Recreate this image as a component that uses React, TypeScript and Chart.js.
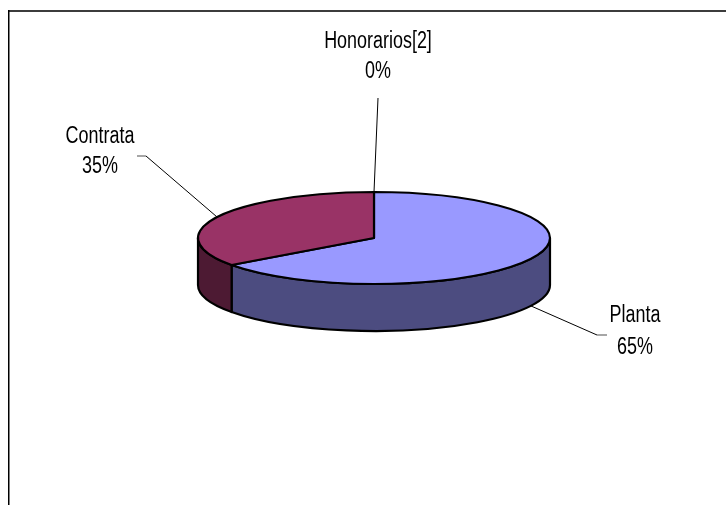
import React, { useEffect, useRef } from "react";
import { Chart, registerables } from "chart.js";

Chart.register(...registerables);

// ---- data ----
const categories = ["Planta", "Contrata", "Honorarios[2]"];
const values = [65, 35, 0];
const topColors = ["#9999FF", "#993366", "#FFFFCC"];
const sideColors = ["#4C4C80", "#4D1A33", "#80806A"];

// label placement (center x, baseline of first line, line gap) and leader elbow/stub
const labelAnchors = [
  { x: 635, y: 322, gap: 32, elbow: [597, 335], stub: [607, 335] },
  { x: 100, y: 143, gap: 30, elbow: [146, 156], stub: [137, 156] },
  { x: 378, y: 48, gap: 30, elbow: [378, 98], stub: null as null | number[] },
];

const TILT = 46 / 176; // vertical squash of the pie
const DEPTH = 47 / 176; // thickness of the pie

const pie3d = {
  id: "pie3d",
  beforeDatasetsDraw(chart: any) {
    const ctx: CanvasRenderingContext2D = chart.ctx;
    const meta = chart.getDatasetMeta(0);
    const arcs = meta.data as any[];
    if (!arcs.length) return false;
    const cx = arcs[0].x;
    const cy = arcs[0].y;
    const rx = arcs[0].outerRadius;
    const ry = rx * TILT;
    const d = rx * DEPTH;

    ctx.save();
    ctx.lineJoin = "round";
    ctx.strokeStyle = "#000";

    const norm = (a: number) => {
      let t = a % (2 * Math.PI);
      if (t < 0) t += 2 * Math.PI;
      return t;
    };
    // sides (front half only)
    arcs.forEach((arc, i) => {
      if (arc.endAngle - arc.startAngle <= 0) return;
      const a = norm(arc.startAngle);
      const b = a + (arc.endAngle - arc.startAngle);
      const ranges: number[][] = [];
      for (const off of [0, 2 * Math.PI]) {
        const s = Math.max(a, off);
        const e = Math.min(b, off + Math.PI);
        if (e > s) ranges.push([s, e]);
      }
      ranges.forEach(([s, e]) => {
        ctx.beginPath();
        ctx.moveTo(cx + rx * Math.cos(s), cy + ry * Math.sin(s));
        ctx.ellipse(cx, cy, rx, ry, 0, s, e, false);
        ctx.lineTo(cx + rx * Math.cos(e), cy + d + ry * Math.sin(e));
        ctx.ellipse(cx, cy + d, rx, ry, 0, e, s, true);
        ctx.closePath();
        ctx.fillStyle = sideColors[i];
        ctx.fill();
        ctx.lineWidth = 2.2;
        ctx.stroke();
      });
    });

    // top faces
    arcs.forEach((arc, i) => {
      if (arc.endAngle - arc.startAngle <= 0) return;
      ctx.beginPath();
      ctx.moveTo(cx, cy);
      ctx.ellipse(cx, cy, rx, ry, 0, arc.startAngle, arc.endAngle, false);
      ctx.closePath();
      ctx.fillStyle = topColors[i];
      ctx.fill();
      ctx.lineWidth = 2.2;
      ctx.stroke();
    });

    // leader lines and labels
    const total = values.reduce((s, v) => s + v, 0);
    arcs.forEach((arc, i) => {
      const mid = (arc.startAngle + arc.endAngle) / 2;
      const sx = cx + rx * Math.cos(mid);
      let sy = cy + ry * Math.sin(mid);
      if (Math.sin(mid) > 0.05) sy += d;
      const lab = labelAnchors[i];
      ctx.beginPath();
      ctx.moveTo(sx, sy);
      ctx.lineTo(lab.elbow[0], lab.elbow[1]);
      ctx.lineWidth = 1;
      ctx.strokeStyle = "#000";
      ctx.stroke();
      if (lab.stub) {
        ctx.beginPath();
        ctx.moveTo(lab.elbow[0], lab.elbow[1]);
        ctx.lineTo(lab.stub[0], lab.stub[1]);
        ctx.strokeStyle = "#888";
        ctx.lineWidth = 1.5;
        ctx.stroke();
      }
      const pct = Math.round((values[i] / total) * 100) + "%";
      const lines = [categories[i], pct];
      ctx.fillStyle = "#000";
      ctx.font = "23px 'Liberation Sans', Arial, sans-serif";
      ctx.textAlign = "center";
      ctx.textBaseline = "alphabetic";
      lines.forEach((t, k) => {
        ctx.save();
        ctx.translate(lab.x, lab.y + k * lab.gap);
        ctx.scale(0.78, 1);
        ctx.fillText(t, 0, 0);
        ctx.restore();
      });
    });

    ctx.restore();
    return false;
  },
  afterDraw(chart: any) {
    const ctx: CanvasRenderingContext2D = chart.ctx;
    ctx.save();
    ctx.strokeStyle = "#3c3c3c";
    ctx.lineWidth = 2;
    ctx.beginPath();
    ctx.moveTo(8, 11);
    ctx.lineTo(726, 11);
    ctx.stroke();
    ctx.strokeStyle = "#000";
    ctx.lineWidth = 1.5;
    ctx.beginPath();
    ctx.moveTo(8.75, 10);
    ctx.lineTo(8.75, 505);
    ctx.stroke();
    ctx.restore();
  },
};

export default function App() {
  const ref = useRef<HTMLCanvasElement | null>(null);
  useEffect(() => {
    if (!ref.current) return;
    const chart = new Chart(ref.current, {
      type: "pie",
      data: {
        labels: categories,
        datasets: [
          {
            data: values,
            backgroundColor: topColors,
            borderWidth: 0,
          },
        ],
      },
      options: {
        responsive: false,
        animation: false,
        radius: 176,
        rotation: 0,
        layout: { padding: { left: 197, right: 175, top: 61, bottom: 90 } },
        plugins: {
          legend: { display: false },
          tooltip: { enabled: false },
        },
      } as any,
      plugins: [pie3d],
    });
    return () => chart.destroy();
  }, []);
  return (
    <div style={{ position: "fixed", left: 0, top: 0, width: 726, height: 505, background: "#fff" }}>
      <canvas ref={ref} width={726} height={505} style={{ display: "block" }} />
    </div>
  );
}
